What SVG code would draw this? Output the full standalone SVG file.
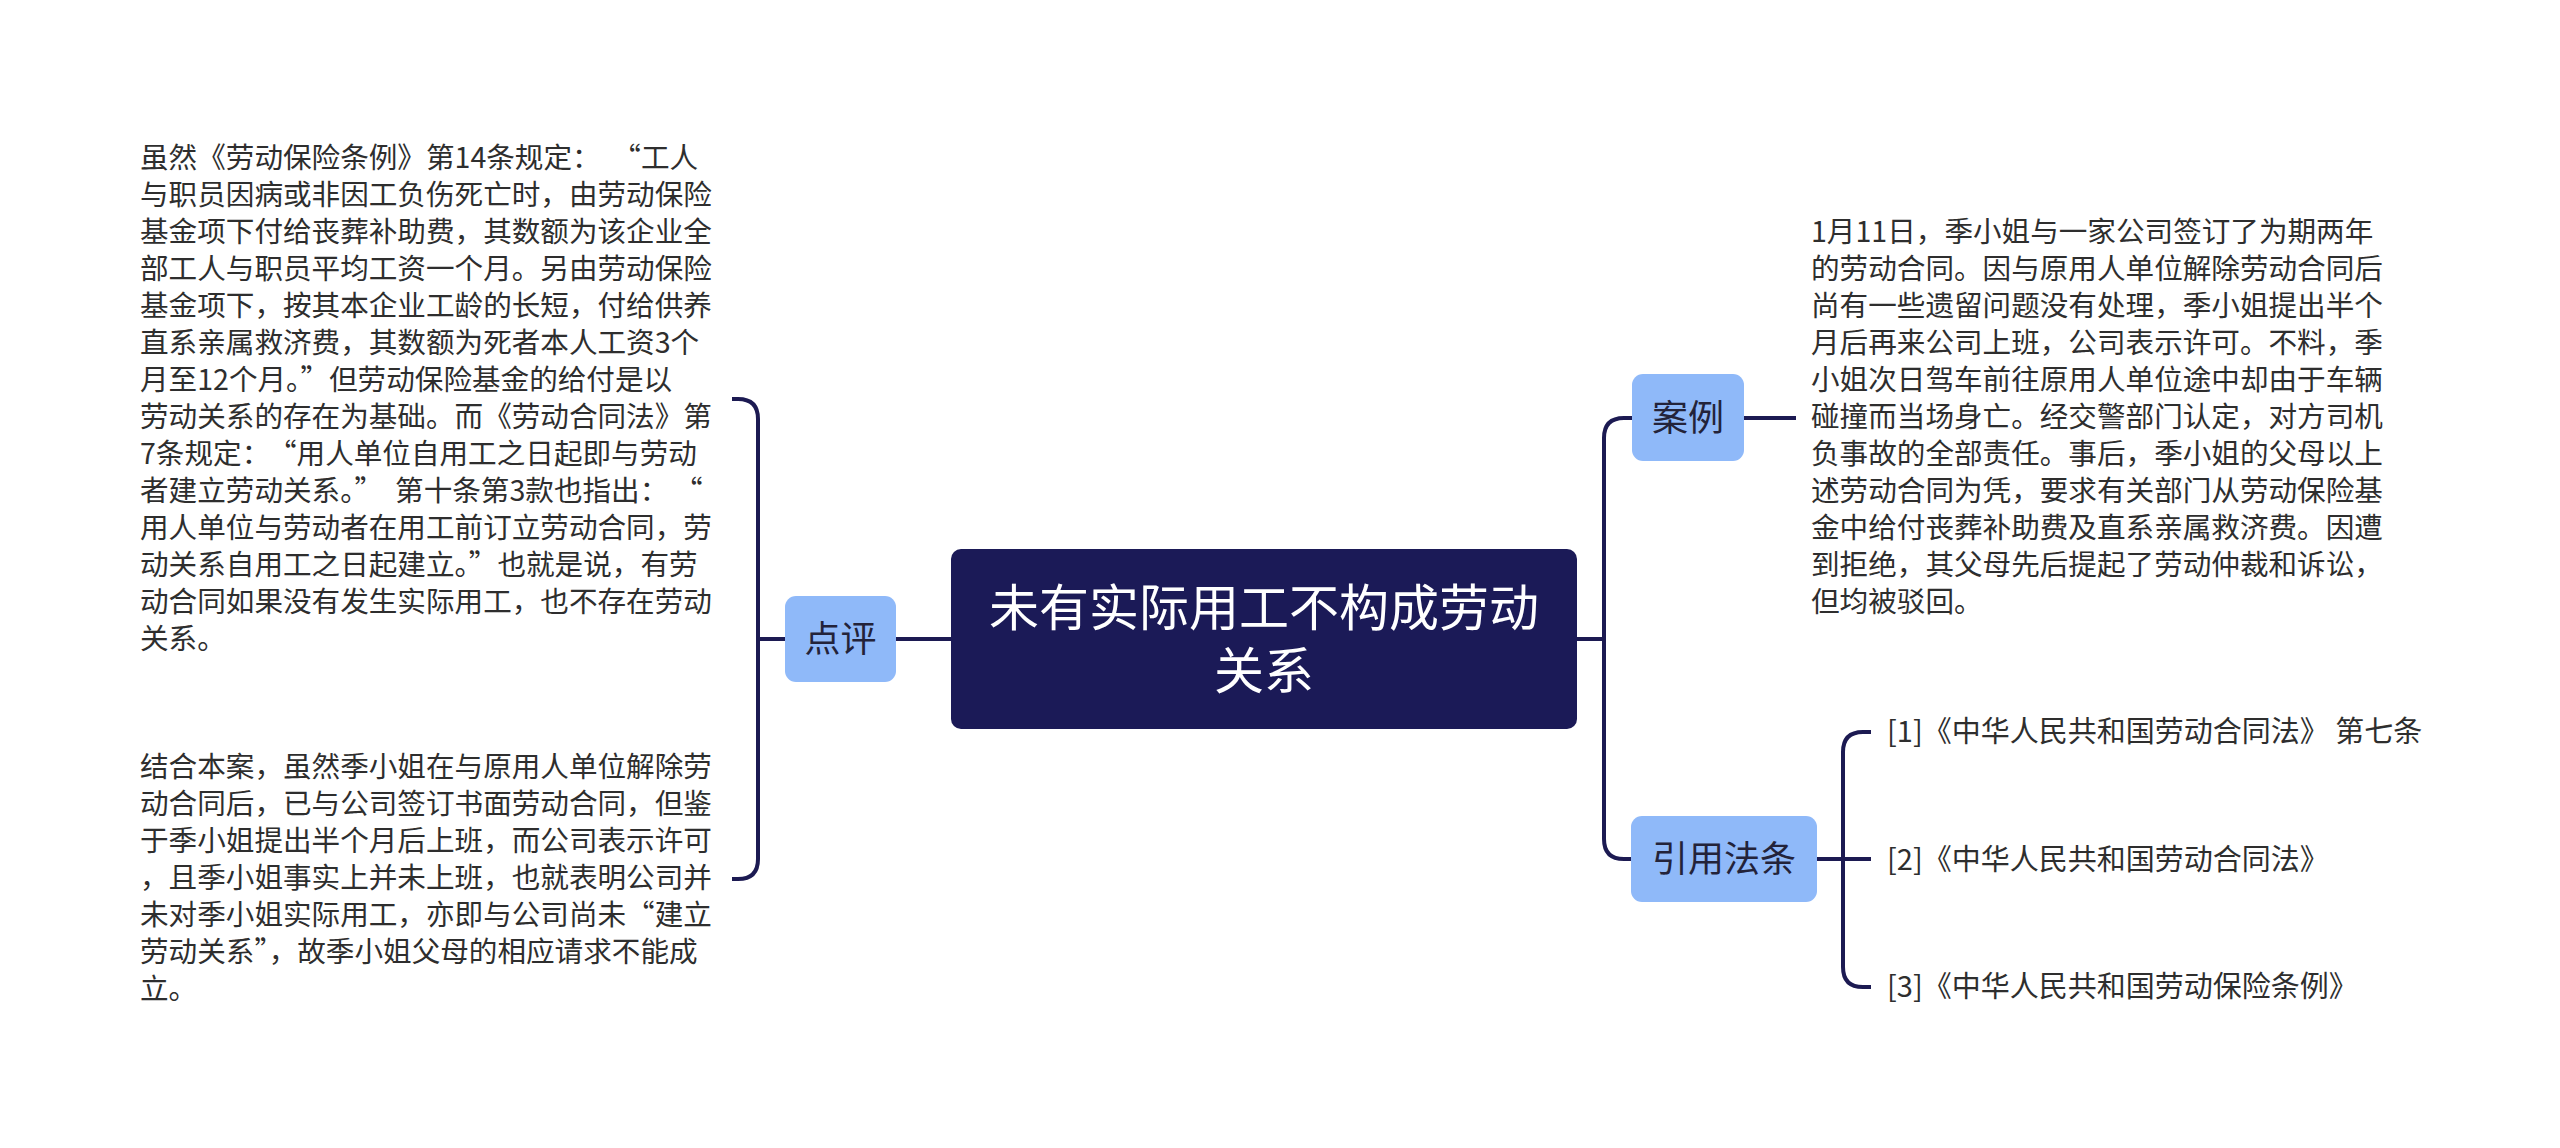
<svg xmlns="http://www.w3.org/2000/svg" width="2560" height="1148" viewBox="0 0 2560 1148">
<style>
.t{font-family:"Noto Sans CJK SC","Liberation Sans",sans-serif;font-size:28.6px;fill:#2e2e2e}
.ref{font-family:"Noto Sans CJK SC","Liberation Sans",sans-serif;font-size:29px;fill:#2e2e2e}
.sub{font-family:"Noto Sans CJK SC","Liberation Sans",sans-serif;font-size:36px;fill:#23233a;text-anchor:middle}
.main{font-family:"Noto Sans CJK SC","Liberation Sans",sans-serif;font-size:50px;fill:#ffffff;text-anchor:middle}
.box{fill:#8fb9f9}
.ln{fill:none;stroke:#1c1a52;stroke-width:4}
</style>
<rect width="2560" height="1148" fill="#ffffff"/>
<g id="connectors">
<path class="ln" d="M951 639H896"/>
<path class="ln" d="M785 639H758"/>
<path class="ln" d="M732 399H738Q758 399 758 419V859Q758 879 738 879H732"/>
<path class="ln" d="M1577 639H1604"/>
<path class="ln" d="M1632 418H1624Q1604 418 1604 438V839Q1604 859 1624 859H1631"/>
<path class="ln" d="M1744 418H1796"/>
<path class="ln" d="M1817 859H1871"/>
<path class="ln" d="M1871 732H1863Q1843 732 1843 752V967Q1843 987 1863 987H1871"/>
</g>
<g id="root">
<rect x="951" y="549" width="626" height="180" rx="10" fill="#1b1a57"/>
<text class="main"><tspan x="1264" y="626">未有实际用工不构成劳动</tspan><tspan x="1264" y="689">关系</tspan></text>
</g>
<g id="node-dianping">
<rect class="box" x="785" y="596" width="111" height="86" rx="11"/>
<text class="sub" x="840.5" y="652">点评</text>
</g>
<g id="node-anli">
<rect class="box" x="1632" y="374" width="112" height="87" rx="11"/>
<text class="sub" x="1688" y="431">案例</text>
</g>
<g id="node-yinyong">
<rect class="box" x="1631" y="816" width="186" height="86" rx="11"/>
<text class="sub" x="1724" y="872">引用法条</text>
</g>
<g id="text-dianping-1">
<text class="t" x="140" y="168">虽然《劳动保险条例》第14条规定：<tspan dx="26">“</tspan>工人</text>
<text class="t" x="140" y="205">与职员因病或非因工负伤死亡时，由劳动保险</text>
<text class="t" x="140" y="242">基金项下付给丧葬补助费，其数额为该企业全</text>
<text class="t" x="140" y="279">部工人与职员平均工资一个月。另由劳动保险</text>
<text class="t" x="140" y="316">基金项下，按其本企业工龄的长短，付给供养</text>
<text class="t" x="140" y="353">直系亲属救济费，其数额为死者本人工资3个</text>
<text class="t" x="140" y="390">月至12个月。”但劳动保险基金的给付是以</text>
<text class="t" x="140" y="427">劳动关系的存在为基础。而《劳动合同法》第</text>
<text class="t" x="140" y="464">7条规定：<tspan dx="12">“</tspan>用人单位自用工之日起即与劳动</text>
<text class="t" x="140" y="501">者建立劳动关系。”<tspan dx="12">第</tspan>十条第3款也指出：<tspan dx="20">“</tspan></text>
<text class="t" x="140" y="538">用人单位与劳动者在用工前订立劳动合同，劳</text>
<text class="t" x="140" y="575">动关系自用工之日起建立。”也就是说，有劳</text>
<text class="t" x="140" y="612">动合同如果没有发生实际用工，也不存在劳动</text>
<text class="t" x="140" y="649">关系。</text>
</g>
<g id="text-dianping-2">
<text class="t" x="140" y="777">结合本案，虽然季小姐在与原用人单位解除劳</text>
<text class="t" x="140" y="814">动合同后，已与公司签订书面劳动合同，但鉴</text>
<text class="t" x="140" y="851">于季小姐提出半个月后上班，而公司表示许可</text>
<text class="t" x="140" y="888">，且季小姐事实上并未上班，也就表明公司并</text>
<text class="t" x="140" y="925">未对季小姐实际用工，亦即与公司尚未“建立</text>
<text class="t" x="140" y="962">劳动关系”，故季小姐父母的相应请求不能成</text>
<text class="t" x="140" y="999">立。</text>
</g>
<g id="text-anli">
<text class="t" x="1811" y="242">1月11日，季小姐与一家公司签订了为期两年</text>
<text class="t" x="1811" y="279">的劳动合同。因与原用人单位解除劳动合同后</text>
<text class="t" x="1811" y="316">尚有一些遗留问题没有处理，季小姐提出半个</text>
<text class="t" x="1811" y="353">月后再来公司上班，公司表示许可。不料，季</text>
<text class="t" x="1811" y="390">小姐次日驾车前往原用人单位途中却由于车辆</text>
<text class="t" x="1811" y="427">碰撞而当场身亡。经交警部门认定，对方司机</text>
<text class="t" x="1811" y="464">负事故的全部责任。事后，季小姐的父母以上</text>
<text class="t" x="1811" y="501">述劳动合同为凭，要求有关部门从劳动保险基</text>
<text class="t" x="1811" y="538">金中给付丧葬补助费及直系亲属救济费。因遭</text>
<text class="t" x="1811" y="575">到拒绝，其父母先后提起了劳动仲裁和诉讼，</text>
<text class="t" x="1811" y="612">但均被驳回。</text>
</g>
<g id="ref-1"><text class="ref" x="1887" y="742">[1]《中华人民共和国劳动合同法》 第七条</text></g>
<g id="ref-2"><text class="ref" x="1887" y="870">[2]《中华人民共和国劳动合同法》</text></g>
<g id="ref-3"><text class="ref" x="1887" y="997">[3]《中华人民共和国劳动保险条例》</text></g>
</svg>
